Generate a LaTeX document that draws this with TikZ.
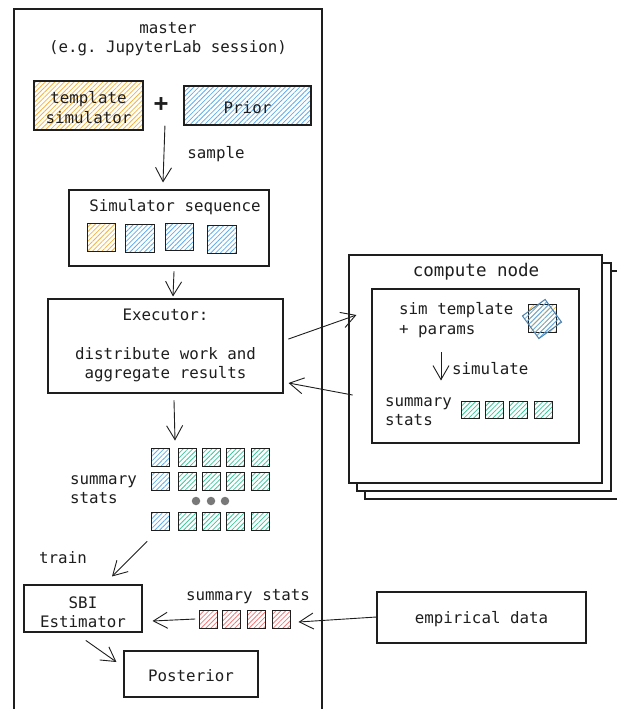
\documentclass[tikz,border=0pt]{standalone}
\usepackage{fontspec}
\setmonofont{DejaVu Sans Mono}
\usetikzlibrary{arrows.meta,patterns.meta,calc}
\definecolor{ink}{HTML}{1E1E1E}
\definecolor{cor}{HTML}{F2B441}
\definecolor{cbl}{HTML}{62AEEB}
\definecolor{cgr}{HTML}{3EC79C}
\definecolor{crd}{HTML}{EE7B7B}
\definecolor{dotc}{HTML}{787878}
\tikzset{
  box/.style={draw=ink, line width=1.1pt, fill=white, inner sep=0pt, rectangle},
  txt/.style={inner sep=0pt, align=center, text=ink, yshift=-2pt},
  cell/.style={draw=ink, line width=1pt, minimum width=18pt, minimum height=18pt, inner sep=0pt, rectangle},
  hatch/.style={pattern={Lines[angle=45,distance=3.4pt,line width=0.8pt]}, pattern color=#1},
  conn/.style={->, draw=ink, line width=0.9pt},
}
\begin{document}
\begin{tikzpicture}[x=1pt,y=-1pt,
  font=\ttfamily\fontsize{15.8}{19.2}\selectfont,
  >={Straight Barb[length=14pt,width=16pt]}, line cap=round]
\useasboundingbox (0,0) rectangle (617,709);
\clip (0,0) rectangle (617,709);

% master
\node[box, minimum width=308pt, minimum height=711pt] (master) at (168,364.5) {};
\node[txt] (mtitle) at (168,37.5) {master\\(e.g. JupyterLab session)};

\node[box, hatch=cor, minimum width=109pt, minimum height=49pt] (tmpl) at (88.5,105.5) {};
\node[txt] (tmplt) at (88.5,105.5) {template\\simulator};
\node[txt, font=\ttfamily\bfseries\fontsize{24}{24}\selectfont] (plus) at (161,103) {+};
\node[box, hatch=cbl, minimum width=127pt, minimum height=39pt] (prior) at (247.5,105.5) {};
\node[txt] (priort) at (247.5,105.5) {Prior};
\node[txt] (samplel) at (216,152) {sample};

\node[box, minimum width=200pt, minimum height=76pt] (seq) at (169,228) {};
\node[txt] (seqt) at (175,205) {Simulator sequence};
\node[cell, hatch=cor, minimum width=28pt, minimum height=28pt] (s1) at (101,237) {};
\node[cell, hatch=cbl, minimum width=29pt, minimum height=28pt] (s2) at (139.5,238) {};
\node[cell, hatch=cbl, minimum width=28pt, minimum height=27pt] (s3) at (179,236.5) {};
\node[cell, hatch=cbl, minimum width=29pt, minimum height=28pt] (s4) at (221.5,239) {};

\node[box, minimum width=235pt, minimum height=94pt] (exec) at (165.5,346) {};
\node[txt] (exect) at (165.5,343.5) {Executor:\\[19.2pt]distribute work and\\aggregate results};

% summary stats grid
\node[txt, align=left, anchor=west] (gridl) at (70,487.5) {summary\\stats};
\foreach \r/\y in {1/457,2/481,3/521.5}{
  \node[cell, hatch=cbl] (g\r1) at (160,\y) {};
  \node[cell, hatch=cgr] (g\r2) at (187,\y) {};
  \node[cell, hatch=cgr] (g\r3) at (211,\y) {};
  \node[cell, hatch=cgr] (g\r4) at (235.5,\y) {};
  \node[cell, hatch=cgr] (g\r5) at (260,\y) {};
}
\foreach \x/\n in {196/1,211/2,225/3}{
  \node[circle, fill=dotc, inner sep=0pt, minimum size=8.5pt] (dot\n) at (\x,501) {};
}

\node[txt] (trainl) at (63,556) {train};
\node[box, minimum width=118pt, minimum height=47pt] (sbi) at (83,608.5) {};
\node[txt] (sbit) at (83,610) {SBI\\Estimator};
\node[txt] (ssl) at (248,595) {summary stats};
\node[cell, hatch=crd] (r1) at (208.5,619) {};
\node[cell, hatch=crd] (r2) at (231,619) {};
\node[cell, hatch=crd] (r3) at (256.5,619) {};
\node[cell, hatch=crd] (r4) at (281,619) {};
\node[box, minimum width=134pt, minimum height=46pt] (post) at (191,674) {};
\node[txt] (postt) at (191,674) {Posterior};

% compute node stack
\node[box, minimum width=255pt, minimum height=228pt] (cn3) at (492.5,385) {};
\node[box, minimum width=254pt, minimum height=228pt] (cn2) at (484,377) {};
\node[box, minimum width=253pt, minimum height=228pt] (cn) at (475.5,369) {};
\node[txt, font=\ttfamily\fontsize{17.5}{20}\selectfont] (cnt) at (476,270) {compute node};
\node[box, minimum width=207pt, minimum height=154pt] (inner) at (475.5,366) {};
\node[txt, align=left, anchor=west] (simt) at (399,318) {sim template\\+ params};
\node[cell, hatch=cor, minimum width=28pt, minimum height=28pt] (tsq) at (542,318) {};
\node[cell, hatch=cbl, draw=cbl!70!ink, minimum width=28pt, minimum height=28pt, rotate=36] (tsqb) at (542,319) {};
\node[txt, anchor=west] (siml) at (452,367) {simulate};
\node[txt, align=left, anchor=west] (innerl) at (385,409.5) {summary\\stats};
\foreach \x/\n in {470/1,494/2,518/3,543/4}{
  \node[cell, hatch=cgr, minimum height=17pt] (c\n) at (\x,410) {};
}

\node[box, minimum width=209pt, minimum height=51pt] (emp) at (481.5,617.5) {};
\node[txt] (empt) at (481.5,617.5) {empirical data};

% connectors
\draw[conn] ($(tmpl.east)!.5!(prior.west)+(1.5,20.5)$) -- ($(seq.north)+(-6,-7)$);
\draw[conn] ($(seq.south)+(5,5)$) -- ($(exec.north)+(7.5,-2)$);
\draw[conn] ($(exec.east)+(5,-7)$) -- ($(cn.west)+(8,-54)$);
\draw[conn] ($(cn.west)+(4,26)$) -- ($(exec.east)+(5,37)$);
\draw[conn] ($(inner.north)+(-34.5,64)$) -- ($(inner.north)+(-34.5,92)$);
\draw[conn] ($(exec.south)+(8.5,7)$) -- ($(g11.north)+(15,-7)$);
\draw[conn] ($(g31.south)+(-13,10.5)$) -- ($(sbi.north)+(29,-8)$);
\draw[conn] ($(r1.west)+(-4,0)$) -- ($(sbi.east)+(10,12.5)$);
\draw[conn] ($(emp.west)+(0,-0.5)$) -- ($(r4.east)+(8,3)$);
\draw[conn] ($(sbi.south)+(3,8)$) -- ($(post.west)+(-7,-12)$);
\end{tikzpicture}
\end{document}
